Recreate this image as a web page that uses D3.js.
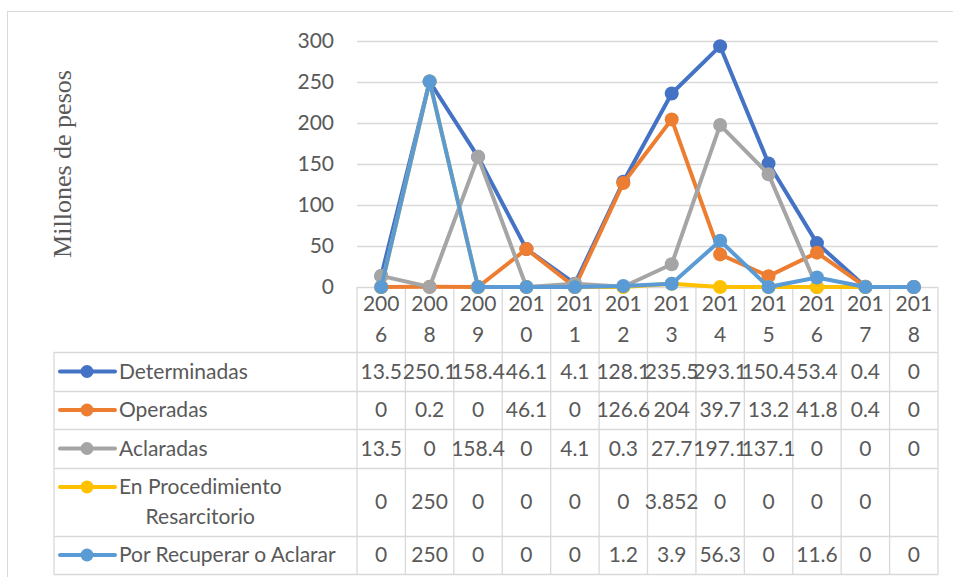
<!DOCTYPE html>
<html>
<head>
<meta charset="utf-8">
<script src="https://cdn.jsdelivr.net/npm/d3@7"></script>
<style>
  body { margin: 0; background: #fff; }
  svg { display: block; }
</style>
</head>
<body>
<svg id="chart" width="953" height="577"></svg>
<script>
const categories = ['2006', '2008', '2009', '2010', '2011', '2012', '2013', '2014', '2015', '2016', '2017', '2018'];
const determinadas = [13.5, 250.1, 158.4, 46.1, 4.1, 128.1, 235.5, 293.1, 150.4, 53.4, 0.4, 0];
const operadas = [0, 0.2, 0, 46.1, 0, 126.6, 204, 39.7, 13.2, 41.8, 0.4, 0];
const aclaradas = [13.5, 0, 158.4, 0, 4.1, 0.3, 27.7, 197.1, 137.1, 0, 0, 0];
const enProcedimiento = [0, 250, 0, 0, 0, 0, 3.852, 0, 0, 0, 0, null];
const porRecuperar = [0, 250, 0, 0, 0, 1.2, 3.9, 56.3, 0, 11.6, 0, 0];
const seriesNames = ['Determinadas', 'Operadas', 'Aclaradas', 'En Procedimiento|Resarcitorio', 'Por Recuperar o Aclarar'];
const yTicks = [0, 50, 100, 150, 200, 250, 300];

const seriesValues = [determinadas, operadas, aclaradas, enProcedimiento, porRecuperar];
const colors = ['#4472C4', '#ED7D31', '#A5A5A5', '#FFC000', '#5B9BD5'];

const svg = d3.select('#chart');
const font = 'Lato, "Open Sans", sans-serif';
const textColor = '#595959';
const gridColor = '#D9D9D9';

// Plot and table geometry
const plotLeft = 357, plotRight = 938, plotTop = 40.5, plotBottom = 287;
const legendLeft = 54;
const rowLines = [352, 391, 429, 468, 536, 574]; // bottom edges of header + each table row

const x = d3.scaleBand().domain(categories).range([plotLeft, plotRight]);
const y = d3.scaleLinear().domain([0, 300]).range([plotBottom, plotTop]);
const cx = (c) => x(c) + x.bandwidth() / 2;

// Outer chart frame (runs off the right and bottom of the picture)
svg.append('rect')
  .attr('x', 7.5).attr('y', 11.5).attr('width', 1000).attr('height', 600)
  .attr('fill', 'none').attr('stroke', gridColor);

// Gridlines
svg.append('g').selectAll('line').data(yTicks.filter((t) => t > 0)).enter().append('line')
  .attr('x1', plotLeft).attr('x2', plotRight)
  .attr('y1', (d) => Math.round(y(d)) + 0.5).attr('y2', (d) => Math.round(y(d)) + 0.5)
  .attr('stroke', gridColor).attr('stroke-width', 1.3);

// Y axis labels
svg.append('g').selectAll('text').data(yTicks).enter().append('text')
  .attr('x', 334).attr('y', (d) => y(d)).attr('dy', '0.35em')
  .attr('text-anchor', 'end')
  .attr('font-family', font).attr('font-size', 21).attr('fill', textColor)
  .text((d) => d);

// Y axis title
svg.append('text')
  .attr('transform', 'translate(71,164) rotate(-90)')
  .attr('text-anchor', 'middle')
  .attr('font-family', '"Liberation Serif", "DejaVu Serif", serif')
  .attr('font-size', 26).attr('fill', textColor)
  .text('Millones de pesos');

// Data table lines
const table = svg.append('g').attr('stroke', gridColor).attr('stroke-width', 1.3);
table.append('line').attr('x1', plotLeft).attr('x2', plotRight).attr('y1', plotBottom + 0.5).attr('y2', plotBottom + 0.5);
rowLines.forEach((ry) => {
  table.append('line').attr('x1', legendLeft).attr('x2', plotRight).attr('y1', ry + 0.5).attr('y2', ry + 0.5);
});
table.append('line').attr('x1', legendLeft).attr('x2', legendLeft).attr('y1', rowLines[0]).attr('y2', rowLines[5] + 1);
categories.forEach((c) => {
  table.append('line').attr('x1', x(c)).attr('x2', x(c)).attr('y1', plotBottom).attr('y2', rowLines[5] + 1);
});
table.append('line').attr('x1', plotRight).attr('x2', plotRight).attr('y1', plotBottom).attr('y2', rowLines[5] + 1);

// Category labels, wrapped as "200" / "6"
const catText = svg.append('g').selectAll('text').data(categories).enter().append('text')
  .attr('text-anchor', 'middle')
  .attr('font-family', font).attr('font-size', 21).attr('fill', textColor);
catText.append('tspan').attr('x', cx).attr('y', 311).text((d) => d.slice(0, 3));
catText.append('tspan').attr('x', cx).attr('y', 342).text((d) => d.slice(3));

// Table rows: legend key, name and values
seriesNames.forEach((name, i) => {
  const y0 = rowLines[i];
  const y1 = rowLines[i + 1];
  const mid = (y0 + y1) / 2;
  const keyY = name.includes('|') ? mid - 15 : mid;

  svg.append('line')
    .attr('x1', 60).attr('x2', 115).attr('y1', keyY).attr('y2', keyY)
    .attr('stroke', colors[i]).attr('stroke-width', 4).attr('stroke-linecap', 'round');
  svg.append('circle').attr('cx', 87).attr('cy', keyY).attr('r', 6.5).attr('fill', colors[i]);

  const parts = name.split('|');
  const label = svg.append('text')
    .attr('font-family', font).attr('font-size', 21).attr('fill', textColor);
  label.append('tspan').attr('x', 119).attr('y', keyY).attr('dy', '0.35em').text(parts[0]);
  if (parts[1]) {
    const w = label.node().getComputedTextLength();
    label.append('tspan').attr('x', 119 + w / 2).attr('y', keyY + 30).attr('dy', '0.35em')
      .attr('text-anchor', 'middle').text(parts[1]);
  }

  svg.append('g').selectAll('text').data(seriesValues[i]).enter().append('text')
    .attr('x', (d, j) => cx(categories[j])).attr('y', mid).attr('dy', '0.35em')
    .attr('text-anchor', 'middle')
    .attr('font-family', font).attr('font-size', 21).attr('fill', textColor)
    .text((d) => (d == null ? '' : d));
});

// Lines with markers, drawn in series order
const line = d3.line()
  .defined((d) => d.v != null)
  .x((d) => cx(d.c))
  .y((d) => y(d.v));

seriesValues.forEach((vals, i) => {
  const pts = vals.map((v, j) => ({ c: categories[j], v }));
  const g = svg.append('g');
  g.append('path').datum(pts).attr('d', line)
    .attr('fill', 'none').attr('stroke', colors[i]).attr('stroke-width', 4)
    .attr('stroke-linejoin', 'round').attr('stroke-linecap', 'round');
  g.selectAll('circle').data(pts.filter((d) => d.v != null)).enter().append('circle')
    .attr('cx', (d) => cx(d.c)).attr('cy', (d) => y(d.v)).attr('r', 7)
    .attr('fill', colors[i]);
});
</script>
</body>
</html>
